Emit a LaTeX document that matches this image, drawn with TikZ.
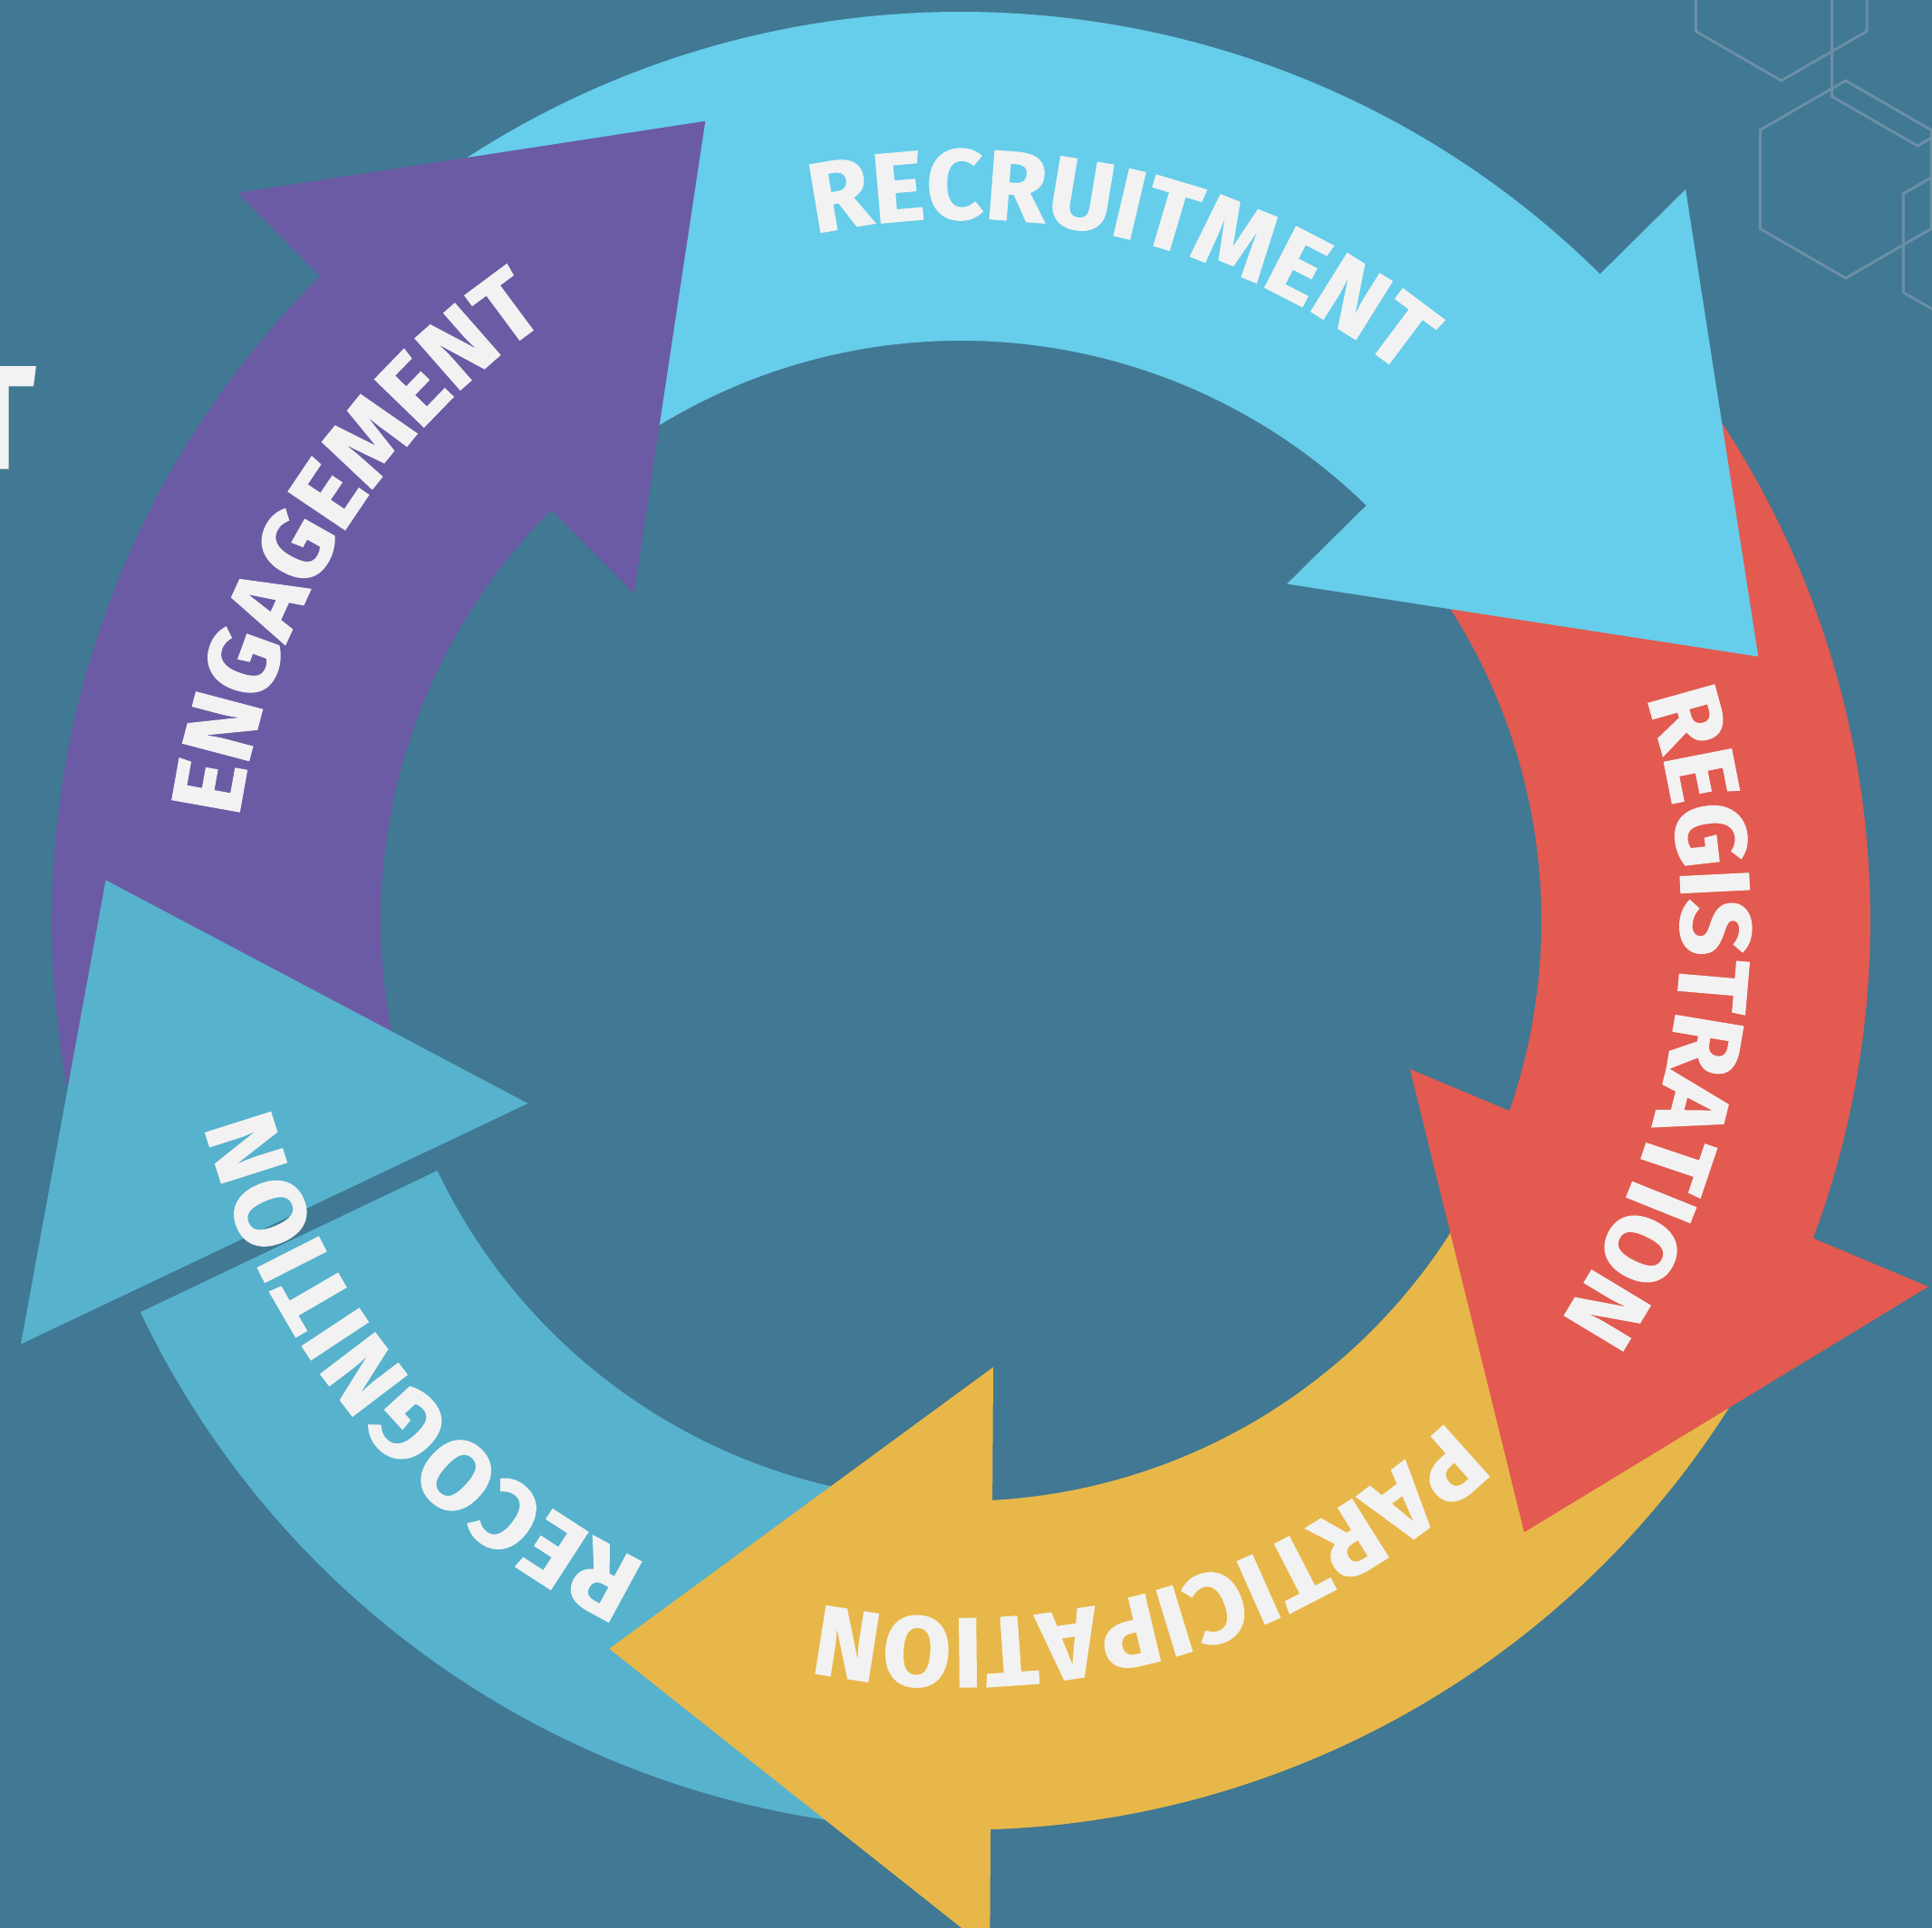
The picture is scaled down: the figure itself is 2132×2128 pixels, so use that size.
\documentclass[tikz,border=0pt]{standalone}
\usepackage{fontspec}
\newfontfamily\ringfont{Fira Sans}[FakeBold=1.2]
\usetikzlibrary{decorations.text}
\definecolor{bg}{HTML}{417893}
\definecolor{cyanA}{HTML}{66CDEA}
\definecolor{redA}{HTML}{E25A50}
\definecolor{yelA}{HTML}{E8B749}
\definecolor{bluA}{HTML}{57B2CD}
\definecolor{purA}{HTML}{6B5BA5}
\definecolor{txtc}{HTML}{F2F2F2}
\definecolor{hexl}{HTML}{6A8FA6}
\newcommand\ringtxt{\ringfont\bfseries\fontsize{31}{31}\selectfont\color{txtc}}
\newcommand\ringband[3]{\fill[#1] (#2:1003.4) arc[start angle=#2, end angle=#3, radius=1003.4] -- (#3:640.4) arc[start angle=#3, end angle=#2, radius=640.4] -- cycle;}
\begin{document}
\begin{tikzpicture}[x=0.01cm,y=0.01cm,
  hexline/.style={draw=hexl, line width=0.85pt, line join=miter},
  ringlabel/.style={decoration={text along path, text align=center, text={|\ringtxt|#1}}, decorate}]
\useasboundingbox (-1060.6,-1111.6) rectangle (1071.4,1016.4);
\clip (-1060.6,-1111.6) rectangle (1071.4,1016.4);
\fill[bg] (-1060.6,-1111.6) rectangle (1071.4,1016.4);
% background hexagons
\foreach \hx/\hy in {905.1/1036.4, 976.1/818.4, 1055.4/964.4, 1134.1/748.1}{
  \draw[hexline] (\hx,\hy) +(90:109) -- +(150:109) -- +(210:109) -- +(270:109) -- +(330:109) -- +(30:109) -- cycle;
}
% cropped title letter
\node[anchor=base east, inner sep=0pt, font=\ringfont\bfseries\fontsize{45.8}{46}\selectfont, text=txtc] (tfrag) at (-1021,499.7) {T};
% arrow heads
\coordinate (cyO) at (799.5,807.4);   \coordinate (cyT) at (879.7,291.7);   \coordinate (cyI) at (359.6,371.9);
\coordinate (rdI) at (495.3,-163.6);  \coordinate (rdO) at (1067.5,-403.7); \coordinate (rdT) at (621.4,-674.8);
\coordinate (ylI) at (35.4,-492.6);   \coordinate (ylO) at (31.7,-1136.3);  \coordinate (ylT) at (-388.2,-803.4);
\coordinate (blT) at (-943.9,45.0);   \coordinate (blI) at (-478.1,-201.5); \coordinate (blO) at (-1037.6,-467.2);
\coordinate (puO) at (-798.4,803.6);  \coordinate (puI) at (-360.9,361.1);  \coordinate (puT) at (-282.3,882.7);
% bands
\ringband{cyanA}{128}{44}
\ringband{redA}{37}{-21.5}
\ringband{yelA}{-27}{-89.5}
\ringband{bluA}{-94}{-154.5}
\ringband{purA}{195}{133.5}
% heads
\fill[cyanA] (cyO) -- (cyT) -- (cyI) -- cycle;
\fill[redA] (rdI) -- (rdO) -- (rdT) -- cycle;
\fill[yelA] (ylI) -- (ylO) -- (ylT) -- cycle;
\fill[bluA] (blT) -- (blI) -- (blO) -- cycle;
\fill[purA] (puO) -- (puI) -- (puT) -- cycle;
% labels
\path[ringlabel=RECRUITMENT] (116.5:775) arc[start angle=116.5, end angle=36.5, radius=775];
\path[ringlabel=REGISTRATION] (32.2:795) arc[start angle=32.2, end angle=-47.8, radius=795];
\path[ringlabel=PARTICIPATION] (-33.7:770) arc[start angle=-33.7, end angle=-113.7, radius=770];
\path[ringlabel=RECOGNITION] (259.5:790) arc[start angle=259.5, end angle=179.5, radius=790];
\path[ringlabel=ENGAGEMENT] (188.2:805) arc[start angle=188.2, end angle=108.2, radius=805];
\end{tikzpicture}
\end{document}
